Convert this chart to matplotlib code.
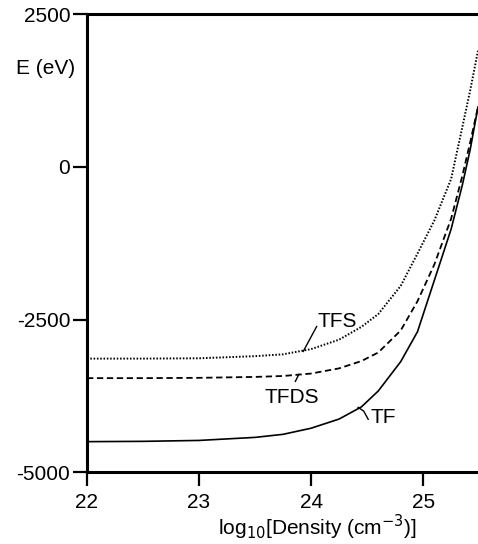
import numpy as np
import matplotlib.pyplot as plt

# log10 density grid and energies (eV)
log_n = [22.0, 22.5, 23.0, 23.5, 23.75, 24.0, 24.25, 24.45, 24.6, 24.8,
         24.95, 25.1, 25.25, 25.35, 25.42, 25.49]
E_tf = [-4500, -4495, -4480, -4430, -4380, -4280, -4130, -3930, -3670, -3190,
        -2700, -1860, -1020, -300, 280, 980]
E_tfds = [-3460, -3460, -3455, -3440, -3425, -3385, -3300, -3180, -3040, -2680,
          -2200, -1600, -850, -150, 400, 980]
E_tfs = [-3140, -3140, -3135, -3100, -3070, -2985, -2830, -2620, -2410, -1950,
         -1420, -880, -200, 650, 1250, 1900]

xticks = [22, 23, 24, 25]
yticks = [2500, 0, -2500, -5000]
ytick_labels = ['2500', '0', '-2500', '-5000']

plt.rcParams['font.family'] = ['Liberation Sans', 'DejaVu Sans']

fig = plt.figure(figsize=(4.78, 5.44), dpi=100)
ax = fig.add_axes([0.182, 0.132, 0.818, 0.842])

ax.plot(log_n, E_tf, color='black', lw=1.2, ls='-')
ax.plot(log_n, E_tfds, color='black', lw=1.3, ls=(0, (3.5, 2)))
ax.plot(log_n, E_tfs, color='black', lw=1.4, ls=(0, (0.8, 0.9)))

ax.set_xlim(22, 25.49)
ax.set_ylim(-5000, 2500)
ax.set_xticks(xticks)
ax.set_yticks(yticks)
ax.set_yticklabels(ytick_labels)
ax.tick_params(direction='out', length=10, width=1.6, labelsize=15, pad=2)
ax.tick_params(axis='x', pad=5)

for s in ['left', 'top', 'bottom']:
    ax.spines[s].set_linewidth(2.2)
ax.spines['right'].set_visible(False)

# curve labels with leader lines
ax.text(24.23, -2533, 'TFS', fontsize=15, ha='center', va='center')
ax.plot([24.05, 23.93], [-2614, -3023], color='black', lw=1)
ax.text(23.83, -3775, 'TFDS', fontsize=15, ha='center', va='center')
ax.plot([23.89, 23.86], [-3399, -3513], color='black', lw=1)
ax.text(24.64, -4101, 'TF', fontsize=15, ha='center', va='center')
ax.plot([24.42, 24.47, 24.51], [-3938, -4000, -4134], color='black', lw=1)

fig.text(46 / 478, 1 - 68 / 544, 'E (eV)', fontsize=15, ha='center', va='center')
fig.text(317 / 478, 1 - 527 / 544, r'log$_{10}$[Density (cm$^{-3}$)]',
         fontsize=15, ha='center', va='center')

fig.savefig('out.png', dpi=100)
